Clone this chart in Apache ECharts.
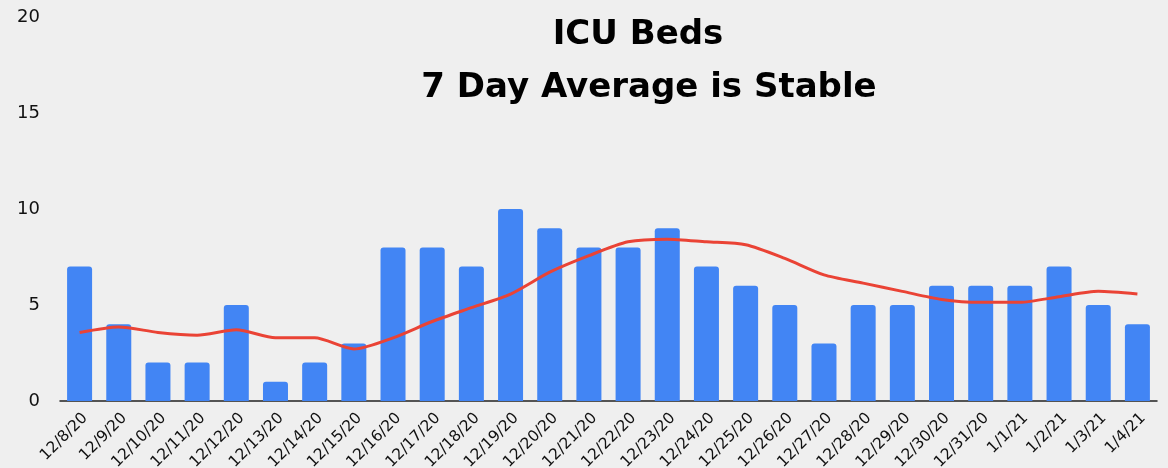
<!DOCTYPE html>
<html>
<head>
<meta charset="utf-8">
<script src="https://cdn.jsdelivr.net/npm/echarts@6/dist/echarts.min.js"></script>
<style>
html,body{margin:0;padding:0;background:#efefef;}
#c{width:1168px;height:468px;}
</style>
</head>
<body>
<div id="c"></div>
<script>
const titleLines = ['ICU Beds', '7 Day Average is Stable'];
const categories = ['12/8/20','12/9/20','12/10/20','12/11/20','12/12/20','12/13/20','12/14/20','12/15/20','12/16/20','12/17/20','12/18/20','12/19/20','12/20/20','12/21/20','12/22/20','12/23/20','12/24/20','12/25/20','12/26/20','12/27/20','12/28/20','12/29/20','12/30/20','12/31/20','1/1/21','1/2/21','1/3/21','1/4/21'];
const icuBeds = [7,4,2,2,5,1,2,3,8,8,7,10,9,8,8,9,7,6,5,3,5,5,6,6,6,7,5,4];
const sevenDayAvg = [3.57,3.86,3.57,3.43,3.71,3.29,3.29,2.71,3.29,4.14,4.86,5.57,6.71,7.57,8.29,8.43,8.29,8.14,7.43,6.57,6.14,5.71,5.29,5.14,5.14,5.43,5.71,5.57];
const yTicks = [0,5,10,15,20];

const titleStyle = {fontFamily:'DejaVu Sans', fontWeight:'bold', fontSize:34, color:'#000'};
const chart = echarts.init(document.getElementById('c'), null, {renderer:'canvas'});
chart.setOption({
  backgroundColor:'#efefef',
  animation:false,
  title:[
    {text: titleLines[0], left: 633, top: 13, textAlign:'center', textStyle:titleStyle},
    {text: titleLines[1], left: 644, top: 66, textAlign:'center', textStyle:titleStyle}
  ],
  grid:{left:60, right:11, top:17, bottom:67, containLabel:false, outerBoundsMode:'none'},
  xAxis:{
    type:'category', data:categories, boundaryGap:true,
    axisLine:{show:true, lineStyle:{color:'#222', width:1.5}},
    axisTick:{show:false},
    axisLabel:{rotate:45, interval:0, fontFamily:'DejaVu Sans', fontSize:15.5, color:'#111', margin:9, verticalAlign:'top', hideOverlap:false}
  },
  yAxis:{
    type:'value', min:yTicks[0], max:yTicks[yTicks.length-1], interval:5,
    axisLine:{show:false}, axisTick:{show:false},
    splitLine:{show:false},
    axisLabel:{fontFamily:'DejaVu Sans', fontSize:18, color:'#111', margin:20}
  },
  series:[
    {type:'bar', data:icuBeds, barWidth:25, itemStyle:{color:'#4285f4', borderRadius:[3,3,0,0]}},
    {type:'line', data:sevenDayAvg, smooth:0.25, symbol:'none', lineStyle:{color:'#ea4335', width:3}, z:3}
  ]
});
</script>
</body>
</html>
